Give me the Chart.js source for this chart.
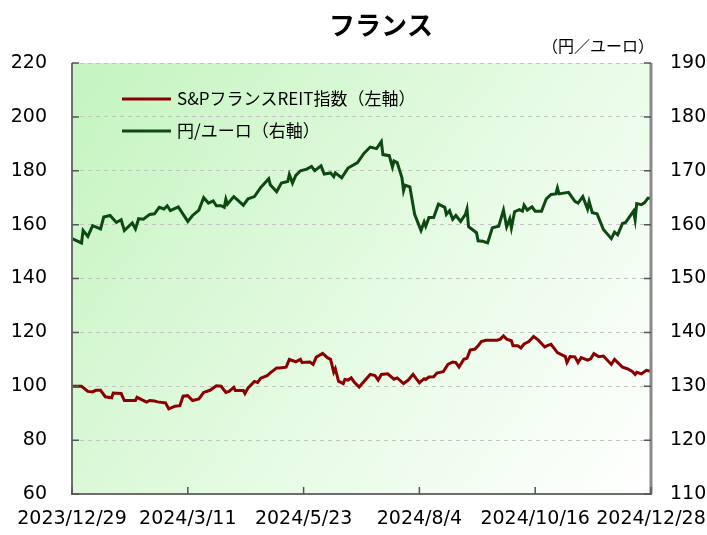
<!DOCTYPE html>
<html>
<head>
<meta charset="utf-8">
<script src="https://cdn.jsdelivr.net/npm/chart.js@4.4.0/dist/chart.umd.min.js"></script>
<style>
  html, body { margin: 0; padding: 0; background: #fff; }
  #wrap { width: 707px; height: 535px; }
</style>
</head>
<body>
<div id="wrap"><canvas id="chart" width="707" height="535"></canvas></div>
<script>
// Tick labels for the date axis (every 73 days)
var dateLabels = ['2023/12/29', '2024/3/11', '2024/5/23', '2024/8/4', '2024/10/16', '2024/12/28'];

// S&P France REIT index (left axis), day offset from 2023/12/29
var reitDays = [0, 6, 10, 13, 15, 18, 21, 25, 26, 31, 33, 40, 41, 47, 49, 52, 54, 59, 61, 65, 68, 70, 73, 76, 80, 83, 87, 91,
  94, 97, 99, 102, 103, 108, 109, 111, 115, 117, 119, 123, 125, 129, 131, 135, 137, 141, 144, 145, 150, 152, 154, 158,
  161, 163, 165, 166, 168, 171, 172, 174, 176, 178, 181, 186, 188, 191, 193, 195, 199, 203, 205, 209, 212, 215, 217,
  219, 222, 223, 225, 228, 230, 234, 237, 240, 242, 244, 247, 249, 251, 254, 256, 258, 261, 268, 270, 272, 274, 277,
  278, 281, 283, 285, 288, 291, 294, 298, 300, 302, 306, 311, 312, 314, 317, 319, 321, 325, 327, 329, 332, 335, 340,
  342, 347, 350, 353, 355, 356, 359, 362, 365];
var reitValues = [100, 100, 98.1, 97.9, 98.5, 98.5, 96.1, 95.7, 97.5, 97.3, 94.7, 94.7, 95.9, 94.1, 94.7, 94.5, 94.2, 93.8,
  91.6, 92.6, 92.8, 96.3, 96.5, 94.7, 95.3, 97.7, 98.5, 100.2, 100, 97.7, 98.1, 99.6, 98.4, 98.4, 97.3, 99.4, 101.8,
  101.4, 103.0, 103.9, 105.0, 106.8, 106.8, 107.1, 110, 109.1, 110, 108.8, 109.0, 108.1, 110.8, 112.2, 110.6, 110,
  105.2, 106.5, 101.9, 101.0, 102.5, 102.3, 103.1, 101.5, 99.7, 103.1, 104.4, 104.0, 102.3, 104.4, 104.6, 102.6,
  103.1, 101.0, 102.3, 104.4, 102.8, 101.3, 102.8, 102.5, 103.4, 103.5, 104.9, 105.4, 108.1, 109.0, 108.8, 107.1,
  110, 110.4, 113.4, 113.8, 115.0, 116.6, 117.1, 117.1, 117.5, 118.7, 117.5, 116.9, 115.0, 115.0, 114.2, 115.7,
  116.6, 118.5, 117.1, 114.6, 115.2, 115.6, 112.5, 111.0, 108.8, 111.0, 110.9, 108.8, 110.6, 109.7, 110.2, 112.1,
  111.0, 111.2, 108.1, 110, 107.1, 106.5, 105.6, 104.4, 105.2, 104.6, 105.9, 105.6];

// Yen per euro (right axis), day offset from 2023/12/29
var eurDays = [0, 6, 7, 10, 13, 18, 20, 24, 28, 31, 33, 38, 40, 42, 45, 49, 52, 55, 58, 60, 62, 67, 73, 76, 80, 83, 86, 89,
  91, 94, 96, 97, 98, 102, 108, 111, 115, 119, 124, 125, 129, 132, 136, 137, 139, 141, 144, 148, 151, 153, 157, 159,
  163, 165, 166, 170, 174, 180, 184, 188, 192, 195, 196, 200, 202, 203, 205, 208, 209, 210, 213, 216, 220, 222, 223,
  225, 228, 231, 235, 236, 238, 240, 242, 245, 248, 249, 250, 255, 256, 259, 262, 265, 269, 272, 274, 276, 277, 279,
  282, 284, 285, 287, 290, 292, 296, 299, 302, 305, 306, 307, 313, 317, 319, 322, 325, 326, 328, 331, 335, 340, 342,
  344, 347, 349, 354, 355, 356, 359, 361, 363, 365];
var eurValues = [157.4, 156.6, 158.9, 157.8, 159.8, 159.2, 161.4, 161.7, 160.4, 160.9, 158.9, 160.3, 159.2, 161.1, 161.0,
  161.9, 162.0, 163.2, 162.9, 163.5, 162.6, 163.3, 160.6, 161.7, 162.7, 165.0, 164.0, 164.4, 163.5, 163.5, 163.2,
  164.7, 163.8, 165.2, 163.6, 164.8, 165.2, 166.9, 168.5, 167.4, 166.1, 167.7, 168.0, 169.3, 167.7, 169.1, 170.0,
  170.3, 170.8, 170.0, 170.9, 169.4, 169.6, 168.9, 169.6, 168.7, 170.5, 171.5, 173.2, 174.4, 174.1, 175.4, 173.0,
  172.8, 170.7, 171.8, 171.5, 168.7, 166.3, 167.3, 167.0, 161.9, 158.9, 160.5, 159.7, 161.3, 161.3, 163.8, 163.2,
  161.9, 162.6, 161.0, 161.7, 160.6, 161.9, 162.9, 159.6, 158.5, 157.0, 156.9, 156.6, 159.4, 159.7, 162.7, 159.6,
  161.1, 159.4, 162.4, 162.8, 162.5, 163.6, 162.7, 163.3, 162.5, 162.5, 164.8, 165.6, 165.7, 166.8, 165.7, 166.0,
  164.3, 164.0, 165.2, 162.9, 164.3, 162.2, 162.0, 159.1, 157.4, 158.6, 158.1, 160.2, 160.4, 162.5, 160.9, 163.9,
  163.7, 164.1, 164.9, 164.9];

var seriesNames = ['S&PフランスREIT指数（左軸）', '円/ユーロ（右軸）'];
var seriesColors = ['#8b0000', '#0c4a12'];

var numFont = { family: "'DejaVu Sans', 'Noto Sans CJK JP'", size: 19 };
var jpFamily = "'Noto Sans CJK JP', 'DejaVu Sans'";

function zip(xs, ys) {
  return xs.map(function (x, i) { return { x: x, y: ys[i] }; });
}

// green background, grey frame, inner tick marks, title and custom legend
var decor = {
  id: 'decor',
  beforeDraw: function (c) {
    var ctx = c.ctx, a = c.chartArea;
    var g = ctx.createLinearGradient(a.left, a.top, a.right, a.bottom);
    g.addColorStop(0, '#c4f4bf');
    g.addColorStop(0.55, '#e6fbe4');
    g.addColorStop(1, '#ffffff');
    ctx.save();
    ctx.fillStyle = g;
    ctx.fillRect(a.left, a.top, a.right - a.left, a.bottom - a.top);
    ctx.restore();
  },
  afterDraw: function (c) {
    var ctx = c.ctx, a = c.chartArea;
    var yl = c.scales.y, yr = c.scales.y2, xs = c.scales.x;
    ctx.save();
    ctx.strokeStyle = '#6e6e6e';
    ctx.lineWidth = 2;
    ctx.beginPath();
    ctx.moveTo(a.left, a.top); ctx.lineTo(a.left, a.bottom);
    ctx.moveTo(a.left - 1, a.bottom); ctx.lineTo(a.right + 1, a.bottom);
    ctx.stroke();
    ctx.strokeStyle = '#8a8a8a';
    ctx.lineWidth = 3;
    ctx.beginPath();
    ctx.moveTo(a.right, a.top); ctx.lineTo(a.right, a.bottom);
    ctx.stroke();
    // inner ticks
    ctx.strokeStyle = '#555';
    ctx.lineWidth = 1.5;
    ctx.beginPath();
    yl.ticks.forEach(function (t) {
      var p = yl.getPixelForValue(t.value);
      ctx.moveTo(a.left, p); ctx.lineTo(a.left + 7, p);
    });
    yr.ticks.forEach(function (t) {
      var p = yr.getPixelForValue(t.value);
      ctx.moveTo(a.right, p); ctx.lineTo(a.right - 7, p);
    });
    xs.ticks.forEach(function (t) {
      var p = xs.getPixelForValue(t.value);
      ctx.moveTo(p, a.bottom); ctx.lineTo(p, a.bottom - 7);
    });
    ctx.stroke();

    // title and unit
    ctx.fillStyle = '#000';
    ctx.textBaseline = 'middle';
    ctx.textAlign = 'center';
    ctx.font = 'bold 26px ' + jpFamily;
    ctx.fillText('フランス', 381, 25);
    ctx.textAlign = 'right';
    ctx.font = '16px ' + jpFamily;
    ctx.fillText('（円／ユーロ）', 654, 46);

    // legend
    ctx.textAlign = 'left';
    ctx.font = '17px ' + jpFamily;
    ctx.lineWidth = 3;
    for (var i = 0; i < seriesNames.length; i++) {
      var yy = 99 + i * 32;
      ctx.strokeStyle = seriesColors[i];
      ctx.beginPath();
      ctx.moveTo(122, yy); ctx.lineTo(171, yy);
      ctx.stroke();
      ctx.fillText(seriesNames[i], 177, yy);
    }
    ctx.restore();
  }
};

new Chart(document.getElementById('chart'), {
  type: 'line',
  data: {
    datasets: [
      {
        label: seriesNames[0],
        data: zip(reitDays, reitValues),
        yAxisID: 'y',
        borderColor: seriesColors[0],
        borderWidth: 3,
        pointRadius: 0,
        tension: 0
      },
      {
        label: seriesNames[1],
        data: zip(eurDays, eurValues),
        yAxisID: 'y2',
        borderColor: seriesColors[1],
        borderWidth: 3,
        pointRadius: 0,
        tension: 0
      }
    ]
  },
  options: {
    responsive: false,
    animation: false,
    layout: { padding: { top: 63, left: 0, right: 0, bottom: 0 } },
    plugins: { legend: { display: false }, title: { display: false }, tooltip: { enabled: false } },
    scales: {
      x: {
        type: 'linear',
        min: 0,
        max: 365,
        afterBuildTicks: function (s) {
          s.ticks = dateLabels.map(function (l, i) { return { value: i * 73 }; });
        },
        afterFit: function (s) { s.height = 41; s.paddingLeft = 0; s.paddingRight = 0; },
        grid: { display: false, drawTicks: false },
        border: { display: false },
        ticks: {
          autoSkip: false,
          maxRotation: 0,
          padding: 14,
          color: '#000',
          font: numFont,
          callback: function (v) { return dateLabels[Math.round(v / 73)]; }
        }
      },
      y: {
        position: 'left',
        min: 60,
        max: 220,
        afterFit: function (s) { s.width = 72; },
        grid: { color: '#c4c4c4', lineWidth: 1, drawTicks: false },
        border: { display: false, dash: [4, 4] },
        ticks: { stepSize: 20, padding: 25, color: '#000', font: numFont }
      },
      y2: {
        position: 'right',
        min: 110,
        max: 190,
        afterFit: function (s) { s.width = 56; },
        grid: { display: false, drawTicks: false },
        border: { display: false },
        ticks: { stepSize: 10, padding: 19, color: '#000', font: numFont }
      }
    }
  },
  plugins: [decor]
});
</script>
</body>
</html>
